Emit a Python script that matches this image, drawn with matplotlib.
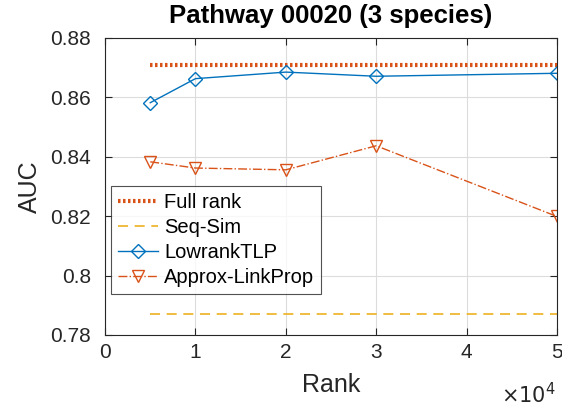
import matplotlib.pyplot as plt
from matplotlib.ticker import FuncFormatter

plt.rcParams['font.family'] = ['Liberation Sans', 'DejaVu Sans']

# AUC vs. rank for pathway 00020
ranks = [5000, 10000, 20000, 30000, 50000]
full_rank_auc = 0.871
seq_sim_auc = 0.787
lowrank_tlp = [0.8582, 0.8663, 0.8685, 0.8671, 0.8681]
approx_linkprop = [0.8383, 0.8362, 0.8356, 0.8437, 0.8199]

blue = '#0072BD'
orange = '#D95319'
yellow = '#EDB120'

fig = plt.figure(figsize=(5.62, 4.08), dpi=100)
ax = fig.add_axes([0.187, 0.179, 0.804, 0.728])

ax.plot(ranks, [full_rank_auc] * len(ranks), linestyle=(0, (0.6, 0.6)), color=orange,
        linewidth=3, label='Full rank')
ax.plot(ranks, [seq_sim_auc] * len(ranks), linestyle=(0, (6, 4)), color=yellow,
        linewidth=1.2, label='Seq-Sim')
ax.plot(ranks, lowrank_tlp, '-', color=blue, linewidth=1.0, marker='D', markersize=7,
        markerfacecolor='none', markeredgecolor=blue, markeredgewidth=1.0, label='LowrankTLP')
ax.plot(ranks, approx_linkprop, '-.', color=orange, linewidth=1.0, marker='v', markersize=9,
        markerfacecolor='none', markeredgecolor=orange, markeredgewidth=1.0,
        label='Approx-LinkProp')

ax.set_xlim(0, 50000)
ax.set_ylim(0.78, 0.88)
ax.set_xticks([0, 10000, 20000, 30000, 40000, 50000])
ax.set_yticks([0.78, 0.80, 0.82, 0.84, 0.86, 0.88])
ax.xaxis.set_major_formatter(FuncFormatter(lambda v, p: f'{v / 1e4:g}'))
ax.yaxis.set_major_formatter(FuncFormatter(lambda v, p: f'{v:.2f}'.rstrip('0') if v != 0.8 else '0.8'))

ax.grid(True, color='#dcdcdc', linewidth=0.8)
ax.set_axisbelow(True)
ax.tick_params(direction='in', length=5, labelsize=15, colors='#262626',
               top=True, right=True, labeltop=False, labelright=False)
ax.tick_params(axis='y', pad=10)
ax.tick_params(axis='x', pad=6)
for s in ax.spines.values():
    s.set_color('#262626')
    s.set_linewidth(0.8)

ax.set_xlabel('Rank', fontsize=18, color='#262626', labelpad=8)
ax.set_ylabel('AUC', fontsize=18, color='#262626', labelpad=6)
ax.set_title('Pathway 00020 (3 species)', fontsize=18.5, fontweight='bold', pad=11)
fig.text(0.988, 0.012, r'$\times10^4$', ha='right', va='baseline',
         fontsize=15, color='#262626')

leg = ax.legend(loc='lower left', bbox_to_anchor=(0.012, 0.138), fontsize=14.5,
                frameon=True, fancybox=False, borderpad=0.35, labelspacing=0.3,
                handlelength=2.0, handletextpad=0.3, borderaxespad=0)
leg.get_frame().set_edgecolor('#262626')
leg.get_frame().set_linewidth(0.8)

fig.savefig('out.png', dpi=100)
